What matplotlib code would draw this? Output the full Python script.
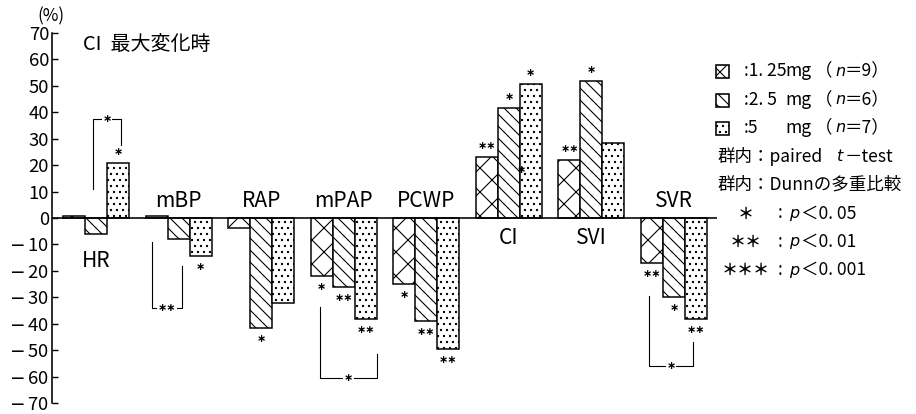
import matplotlib
matplotlib.use('Agg')
import matplotlib.pyplot as plt
from matplotlib.patches import Rectangle
import numpy as np

plt.rcParams['font.family'] = ['Noto Sans CJK JP', 'DejaVu Sans']
plt.rcParams['hatch.linewidth'] = 1.1
plt.rcParams['hatch.color'] = 'black'
plt.rcParams['mathtext.fontset'] = 'dejavusans'
plt.rcParams['mathtext.default'] = 'rm'

# ---------------- data ----------------
categories = ['HR', 'mBP', 'RAP', 'mPAP', 'PCWP', 'CI', 'SVI', 'SVR']
dose_labels = ['1. 25', '2. 5', '5']
n_values = [9, 6, 7]
vals_125 = [0.7, 0.7, -3.7, -21.8, -25.0, 23.2, 22.0, -16.9]
vals_25 = [-6.1, -8.0, -41.6, -26.0, -39.0, 41.5, 51.9, -29.9]
vals_5 = [20.7, -14.2, -32.0, -38.3, -49.6, 50.6, 28.5, -38.3]
sig_125 = ['', '', '', '*', '*', '**', '**', '**']
sig_25 = ['', '', '*', '**', '**', '*', '*', '*']
sig_5 = ['*', '*', '', '**', '**', '*', '', '**']
yticks = list(range(-70, 71, 10))
label_y = [-16.2, 6.5, 6.5, 6.5, 6.5, -7.6, -7.6, 6.5]
# between-group brackets: group, left offset, right offset, level, left end, right end, mark
brackets = [
    (0, -0.036, 0.303, 37.5, 11.0, 27.5, '*'),
    (1, -0.326, 0.045, -34.0, -9.0, -18.0, '**'),
    (3, -0.287, 0.400, -60.7, -33.5, -51.5, '*'),
    (7, -0.300, 0.226, -56.0, -29.5, -47.0, '*'),
]
extra_marks = [(5, 0.147, 18.1, '*')]

series = [vals_125, vals_25, vals_5]
sigs = [sig_125, sig_25, sig_5]
hatches = ['x', '\\\\', '..']

W, H, DPI = 916, 414, 72
fig = plt.figure(figsize=(W / DPI, H / DPI), dpi=DPI)
fig.patch.set_facecolor('white')

ax_left, ax_right, ax_top, ax_bot = 52, 717, 33, 403
ax = fig.add_axes([ax_left / W, (H - ax_bot) / H, (ax_right - ax_left) / W, (ax_bot - ax_top) / H])
ax.patch.set_alpha(0)

x = np.arange(len(categories))
bw = 0.266
offsets = [-bw, 0.0, bw]
for vals, off, hatch in zip(series, offsets, hatches):
    ax.bar(x + off, vals, width=bw, color='white', edgecolor='black',
           linewidth=1.5, hatch=hatch, zorder=2)

ax.axhline(0, color='black', lw=1.6, zorder=3)
ax.set_xlim(-0.533, 7.521)
ax.set_ylim(-70, 70)
for s in ['top', 'right', 'bottom']:
    ax.spines[s].set_visible(False)
ax.spines['left'].set_linewidth(1.6)
ax.set_xticks([])
ax.set_yticks(yticks)
ax.set_yticklabels([str(t) if t >= 0 else r'$-\,$' + str(abs(t)) for t in yticks])
ax.tick_params(axis='y', direction='in', length=6, width=1.4, labelsize=18.5, pad=3)

# significance marks on bars
for vals, off, sg in zip(series, offsets, sigs):
    for i, (v, s) in enumerate(zip(vals, sg)):
        if not s:
            continue
        dy = 11 if v > 0 else -11
        ax.annotate('∗' * len(s), (x[i] + off, v), xytext=(0, dy),
                    textcoords='offset points', ha='center', va='center',
                    fontsize=11, fontweight='bold', family='DejaVu Sans', zorder=4)
for g, off, v, s in extra_marks:
    ax.text(g + off, v, '∗' * len(s), ha='center', va='center', fontsize=11,
            fontweight='bold', family='DejaVu Sans', zorder=4)

# brackets
for g, lo, ro, lvl, le, re_, s in brackets:
    xl, xr = g + lo, g + ro
    ax.plot([xl, xl, xr, xr], [le, lvl, lvl, re_], color='black', lw=1.1, zorder=3)
    ax.text((xl + xr) / 2, lvl, '∗' * len(s), ha='center', va='center', fontsize=11,
            fontweight='bold', family='DejaVu Sans', zorder=4,
            bbox=dict(boxstyle='square,pad=0.05', fc='white', ec='none'))

# category labels
for i, (c, ly) in enumerate(zip(categories, label_y)):
    ax.text(x[i], ly, c, ha='center', va='center', fontsize=21, zorder=4)

# ---------------- overlay in pixel coordinates ----------------
ov = fig.add_axes([0, 0, 1, 1])
ov.set_xlim(0, W)
ov.set_ylim(H, 0)
ov.axis('off')
ov.patch.set_alpha(0)

ov.text(51, 16, '(%)', ha='center', va='center', fontsize=17)
ov.text(83, 45, 'CI  最大変化時', ha='left', va='center', fontsize=20)

row_y = [71.5, 100, 128, 156.7, 185, 213.5, 241.7, 270]
for k in range(3):
    y = row_y[k]
    ov.add_patch(Rectangle((716, y - 6.5), 13, 13, facecolor='white', edgecolor='black',
                           linewidth=1.6, hatch=hatches[k]))
    ov.text(744, y, ':' + dose_labels[k], ha='left', va='center', fontsize=17.5)
    ov.text(785, y, 'mg', ha='left', va='center', fontsize=17.5)
    ov.text(815, y, '（', ha='left', va='center', fontsize=17.5)
    ov.text(835, y, 'n', ha='left', va='center', fontsize=16, family='DejaVu Sans', style='oblique')
    ov.text(845, y, '＝' + str(n_values[k]) + '）', ha='left', va='center', fontsize=17.5)

ov.text(718, row_y[3], '群内：paired', ha='left', va='center', fontsize=17.5)
ov.text(837, row_y[3], 't', ha='left', va='center', fontsize=16, family='DejaVu Sans', style='oblique')
ov.text(845, row_y[3], '－test', ha='left', va='center', fontsize=17.5)
ov.text(718, row_y[4], '群内：Dunnの多重比較', ha='left', va='center', fontsize=17.5)

p_rows = [('＊', '0. 05'), ('＊＊', '0. 01'), ('＊＊＊', '0. 001')]
for k, (st, pv) in enumerate(p_rows):
    y = row_y[5 + k]
    ov.text(746, y, st, ha='center', va='center', fontsize=16, fontweight='bold')
    ov.text(778, y, ':', ha='left', va='center', fontsize=17.5)
    ov.text(789, y, 'p', ha='left', va='center', fontsize=16, family='DejaVu Sans', style='oblique')
    ov.text(801, y, '＜' + pv, ha='left', va='center', fontsize=17.5)

fig.savefig('out.png', dpi=DPI, facecolor='white')
